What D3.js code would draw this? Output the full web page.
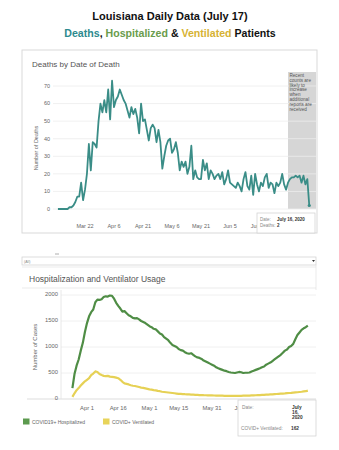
<!DOCTYPE html>
<html><head><meta charset="utf-8">
<script src="https://cdn.jsdelivr.net/npm/d3@7"></script>
<style>
html,body{margin:0;padding:0;background:#fff;}
svg{display:block;font-family:"Liberation Sans",Arial,sans-serif;}
</style></head>
<body>
<script>
// ---------- DATA ----------
const deathStart = "2020-03-08";
const deaths = [
 0,0,0,0,0,0,
 1,1,2,4,7,7,15,5,11,20,37,22,38,37,35,50,60,55,
 62,55,68,51,73,58,62,64,68,65,62,60,56,52,58,54,57,52,43,60,50,51,45,39,46,48,46,38,45,38,
 23,30,36,39,40,32,34,38,32,22,27,24,27,20,24,36,17,22,18,17,17,28,22,26,17,22,20,17,19,20,17,
 21,14,17,22,15,14,13,12,15,13,10,17,21,13,11,19,8,20,14,10,15,13,18,20,12,15,14,9,15,13,
 15,20,14,11,15,17,18,18,19,18,19,15,19,14,17,2
];
const deathTicks = ["2020-03-22","2020-04-06","2020-04-21","2020-05-06","2020-05-21","2020-06-05","2020-06-20"];
const deathTickLabels = ["Mar 22","Apr 6","Apr 21","May 6","May 21","Jun 5","Jun 20"];
const deathYTicks = [0,10,20,30,40,50,60,70];
const recentStart = "2020-07-05";
const recentNote = ["Recent","counts are","likely to","increase","when","additional","reports are","received"];

const hospStart = "2020-03-25";
const hospitalized = [
 210,480,640,760,930,1080,1290,
 1460,1590,1670,1720,1860,1910,1905,1920,1960,1975,1970,1990,1985,1930,1850,1790,1740,1680,1690,1650,1610,1590,1560,1550,1555,1530,1500,1480,1460,1430,
 1400,1380,1350,1340,1300,1260,1240,1190,1160,1130,1080,1040,1020,1000,960,940,930,900,880,870,880,850,820,800,790,770,740,720,700,680,660,
 640,610,590,575,560,545,535,520,510,505,500,510,520,515,500,505,505,510,530,545,560,575,590,610,625,660,680,700,730,760,
 790,820,850,890,930,950,1000,1020,1060,1150,1230,1280,1330,1360,1380,1410
];
const ventilated = [
 40,110,170,210,260,300,340,
 370,400,460,490,530,520,480,460,445,440,445,430,425,420,410,400,370,330,300,290,280,265,255,250,240,230,220,215,205,195,
 185,180,170,165,155,150,140,135,130,125,120,115,110,105,100,98,95,92,90,88,85,83,80,78,76,75,73,72,70,69,68,
 67,66,65,64,63,62,62,61,61,60,60,61,62,62,63,64,65,66,68,70,72,74,76,78,80,83,86,88,90,93,
 96,99,102,105,108,112,115,118,122,126,130,135,140,146,150,162
];
const hospTicks = ["2020-04-01","2020-04-16","2020-05-01","2020-05-15","2020-05-31","2020-06-15"];
const hospTickLabels = ["Apr 1","Apr 16","May 1","May 15","May 31","Jun 15"];
const hospYTicks = [0,500,1000,1500,2000];
const seriesNames = ["COVID19+ Hospitalized","COVID+ Ventilated"];

// ---------- SETUP ----------
const W = 339, H = 450;
const parse = d3.utcParse("%Y-%m-%d");
const svg = d3.select("body").append("svg").attr("width", W).attr("height", H);
svg.append("rect").attr("width", W).attr("height", H).attr("fill", "#fff");

const C = {teal:"#3a8d87", green:"#4f8d45", yellow:"#e6d155", legGreen:"#5c9a4e", legYellow:"#e8d45a",
           tTeal:"#2d8a8e", tGreen:"#6a9c4c", tYellow:"#d6b233"};

// ---------- TITLES ----------
svg.append("text").attr("x", 170).attr("y", 20).attr("text-anchor","middle")
  .attr("font-size", 11).attr("font-weight","bold").attr("fill","#111")
  .text("Louisiana Daily Data (July 17)");
const t2 = svg.append("text").attr("x", 170).attr("y", 37).attr("text-anchor","middle")
  .attr("font-size", 10.6).attr("font-weight","bold").attr("fill","#111");
t2.append("tspan").attr("fill", C.tTeal).text("Deaths");
t2.append("tspan").text(", ");
t2.append("tspan").attr("fill", C.tGreen).text("Hospitalized");
t2.append("tspan").text(" & ");
t2.append("tspan").attr("fill", C.tYellow).text("Ventilated");
t2.append("tspan").text(" Patients");

// ---------- DEATHS PANEL ----------
svg.append("rect").attr("x", 22).attr("y", 50).attr("width", 295).attr("height", 183)
  .attr("fill","#fff").attr("stroke","#d9d9d9").attr("stroke-width",1);
svg.append("text").attr("x", 32).attr("y", 67).attr("font-size", 8).attr("fill","#555")
  .text("Deaths by Date of Death");

const d0 = parse(deathStart);
const deathData = deaths.map((v,i)=>({date:d3.utcDay.offset(d0,i), v}));
const xD = d3.scaleUtc().domain([parse("2020-03-22"), parse("2020-06-05")]).range([85, 230]);
const yD = d3.scaleLinear().domain([0,70]).range([209, 86]);

// recent band
svg.append("rect").attr("x", xD(parse(recentStart))).attr("y", 72)
  .attr("width", 316 - xD(parse(recentStart))).attr("height", yD(0) - 72)
  .attr("fill","#d6d6d6");

// grid
svg.append("g").selectAll("line").data(deathYTicks).join("line")
  .attr("x1", 53).attr("x2", 316).attr("y1", d=>yD(d)).attr("y2", d=>yD(d))
  .attr("stroke","#ececec").attr("stroke-width",0.8);

// band note
svg.append("g").selectAll("text").data(recentNote).join("text")
  .attr("x", xD(parse(recentStart)) + 1.5).attr("y", (d,i)=>77 + i*4.8)
  .attr("font-size", 4.6).attr("fill","#555").text(d=>d);

// y labels
svg.append("g").selectAll("text").data(deathYTicks).join("text")
  .attr("x", 50).attr("y", d=>yD(d)).attr("dy","0.35em").attr("text-anchor","end")
  .attr("font-size", 5.5).attr("fill","#666").text(d=>d);
svg.append("text").attr("transform","translate(38,148) rotate(-90)").attr("text-anchor","middle")
  .attr("font-size", 5.5).attr("fill","#666").text("Number of Deaths");

// x labels
svg.append("g").selectAll("text").data(deathTicks).join("text")
  .attr("x", d=>xD(parse(d))).attr("y", 228).attr("text-anchor","middle")
  .attr("font-size", 5.5).attr("fill","#666").text((d,i)=>deathTickLabels[i]);

// line
svg.append("path").datum(deathData)
  .attr("d", d3.line().x(d=>xD(d.date)).y(d=>yD(d.v)))
  .attr("fill","none").attr("stroke", C.teal).attr("stroke-width",1.8).attr("stroke-linejoin","round");
const lastD = deathData[deathData.length-1];
svg.append("circle").attr("cx", xD(lastD.date)).attr("cy", yD(lastD.v)).attr("r", 1.6).attr("fill", C.teal);

// tooltip
svg.append("rect").attr("x", 257).attr("y", 213).attr("width", 58).attr("height", 20)
  .attr("fill","#fff").attr("stroke","#cfcfcf").attr("stroke-width",0.7);
svg.append("text").attr("x", 260).attr("y", 221).attr("font-size", 4.5).attr("fill","#888").text("Date:");
svg.append("text").attr("x", 277).attr("y", 221).attr("font-size", 4.5).attr("font-weight","bold").attr("fill","#333").text("July 16, 2020");
svg.append("text").attr("x", 260).attr("y", 227).attr("font-size", 4.5).attr("fill","#888").text("Deaths:");
svg.append("text").attr("x", 277).attr("y", 227).attr("font-size", 4.5).attr("font-weight","bold").attr("fill","#333").text(lastD.v);

// ---------- HOSPITALIZATION PANEL ----------
svg.append("line").attr("x1",55).attr("x2",59).attr("y1",254).attr("y2",254).attr("stroke","#999").attr("stroke-width",0.8);
svg.append("rect").attr("x", 22).attr("y", 257).attr("width", 294).attr("height", 8)
  .attr("fill","#fff").attr("stroke","#cfcfcf").attr("stroke-width",0.7);
svg.append("text").attr("x", 24).attr("y", 262.5).attr("font-size", 3.6).attr("fill","#888").text("(All)");
svg.append("path").attr("d","M312,260 L315,260 L313.5,262 Z").attr("fill","#333");
svg.append("line").attr("x1",22).attr("x2",316).attr("y1",267).attr("y2",267).attr("stroke","#e3e3e3").attr("stroke-width",0.7);
svg.append("line").attr("x1",22).attr("x2",316).attr("y1",288).attr("y2",288).attr("stroke","#e3e3e3").attr("stroke-width",0.7);
svg.append("line").attr("x1",316).attr("x2",316).attr("y1",265).attr("y2",290).attr("stroke","#e3e3e3").attr("stroke-width",0.7);
svg.append("text").attr("x", 29).attr("y", 282).attr("font-size", 8.5).attr("fill","#555")
  .text("Hospitalization and Ventilator Usage");

const h0 = parse(hospStart);
const hospData = hospitalized.map((v,i)=>({date:d3.utcDay.offset(h0,i), v}));
const ventData = ventilated.map((v,i)=>({date:d3.utcDay.offset(h0,i), v}));
const xH = d3.scaleUtc().domain([parse("2020-04-01"), parse("2020-05-31")]).range([87, 212]);
const yH = d3.scaleLinear().domain([0,2000]).range([399, 295]);

svg.append("g").selectAll("line").data(hospYTicks.filter(d=>d>0)).join("line")
  .attr("x1", 61).attr("x2", 316).attr("y1", d=>yH(d)).attr("y2", d=>yH(d))
  .attr("stroke","#ececec").attr("stroke-width",0.8);
svg.append("line").attr("x1", 27).attr("x2", 316).attr("y1", yH(0)).attr("y2", yH(0))
  .attr("stroke","#d4d4d4").attr("stroke-width",0.8);
svg.append("line").attr("x1", 61).attr("x2", 61).attr("y1", 290).attr("y2", yH(0))
  .attr("stroke","#e2e2e2").attr("stroke-width",0.8);

svg.append("g").selectAll("text").data(hospYTicks).join("text")
  .attr("x", 58).attr("y", d=>yH(d)-1).attr("dy","0.35em").attr("text-anchor","end")
  .attr("font-size", 5.8).attr("fill","#666").text(d=>d);
svg.append("text").attr("transform","translate(37,347) rotate(-90)").attr("text-anchor","middle")
  .attr("font-size", 6).attr("fill","#666").text("Number of Cases");

svg.append("g").selectAll("text").data(hospTicks).join("text")
  .attr("x", d=>xH(parse(d))).attr("y", 410).attr("text-anchor","middle")
  .attr("font-size", 5.8).attr("fill","#666").text((d,i)=>hospTickLabels[i]);

const lineH = d3.line().x(d=>xH(d.date)).y(d=>yH(d.v));
svg.append("path").datum(ventData).attr("d", lineH)
  .attr("fill","none").attr("stroke", C.yellow).attr("stroke-width",2.2).attr("stroke-linejoin","round");
svg.append("path").datum(hospData).attr("d", lineH)
  .attr("fill","none").attr("stroke", C.green).attr("stroke-width",2.2).attr("stroke-linejoin","round");

// legend
const leg = [{x:23, c:C.legGreen, t:seriesNames[0]}, {x:103, c:C.legYellow, t:seriesNames[1]}];
leg.forEach(l=>{
  svg.append("rect").attr("x", l.x).attr("y", 418.5).attr("width", 6.5).attr("height", 6).attr("fill", l.c);
  svg.append("text").attr("x", l.x+9).attr("y", 423.6).attr("font-size", 5).attr("fill","#666").text(l.t);
});

// tooltip
svg.append("rect").attr("x", 238).attr("y", 400).attr("width", 78).attr("height", 36)
  .attr("fill","#fff").attr("stroke","#cfcfcf").attr("stroke-width",0.7);
svg.append("text").attr("x", 242).attr("y", 408.5).attr("font-size", 4.8).attr("fill","#888").text("Date:");
["July","16,","2020"].forEach((s,i)=>{
  svg.append("text").attr("x", 292).attr("y", 408.5 + i*5).attr("font-size", 4.8)
    .attr("font-weight","bold").attr("fill","#333").text(s);
});
svg.append("text").attr("x", 241).attr("y", 429.5).attr("font-size", 4.8).attr("fill","#888").text("COVID+ Ventilated:");
svg.append("text").attr("x", 291).attr("y", 429.5).attr("font-size", 4.8).attr("font-weight","bold").attr("fill","#333")
  .text(ventilated[ventilated.length-1]);
</script>
</body></html>
